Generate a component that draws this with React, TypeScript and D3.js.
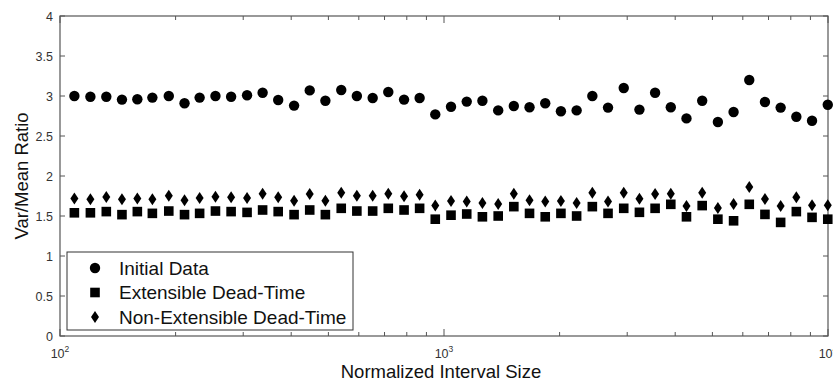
import React from "react";
import * as d3 from "d3";

const intervalSizes = [
  109, 120, 132, 145, 159, 174, 192, 211, 231, 254, 279, 307, 337, 370, 407, 447,
  491, 540, 593, 652, 716, 787, 864, 949, 1043, 1146, 1259, 1384, 1520, 1670, 1835,
  2016, 2215, 2434, 2674, 2938, 3228, 3546, 3896, 4280, 4703, 5167, 5677, 6237,
  6852, 7528, 8271, 9087, 9986,
];

const initialData = [
  3.0, 2.99, 2.99, 2.955, 2.96, 2.98, 3.0, 2.91, 2.98, 3.0, 2.99, 3.01, 3.04, 2.95,
  2.88, 3.07, 2.94, 3.075, 3.0, 2.975, 3.05, 2.955, 2.975, 2.77, 2.865, 2.93, 2.94,
  2.82, 2.875, 2.86, 2.91, 2.81, 2.82, 3.0, 2.855, 3.1, 2.83, 3.04, 2.86, 2.72, 2.94,
  2.675, 2.8, 3.2, 2.925, 2.855, 2.74, 2.69, 2.89,
];

const extensible = [
  1.54, 1.54, 1.555, 1.517, 1.555, 1.533, 1.562, 1.517, 1.533, 1.562, 1.555, 1.545,
  1.575, 1.555, 1.517, 1.575, 1.517, 1.596, 1.562, 1.562, 1.596, 1.575, 1.596, 1.46,
  1.51, 1.525, 1.49, 1.5, 1.617, 1.533, 1.49, 1.533, 1.5, 1.617, 1.533, 1.596, 1.546,
  1.596, 1.646, 1.49, 1.63, 1.46, 1.44, 1.646, 1.52, 1.42, 1.555, 1.483, 1.46,
];

const nonExtensible = [
  1.72, 1.708, 1.737, 1.708, 1.72, 1.708, 1.754, 1.696, 1.725, 1.742, 1.733, 1.725,
  1.779, 1.733, 1.692, 1.775, 1.692, 1.79, 1.754, 1.754, 1.779, 1.746, 1.767, 1.63,
  1.687, 1.68, 1.662, 1.65, 1.779, 1.696, 1.68, 1.687, 1.662, 1.79, 1.68, 1.79, 1.716,
  1.775, 1.779, 1.625, 1.79, 1.6, 1.65, 1.862, 1.712, 1.625, 1.733, 1.633, 1.633,
];

const yTicks = [0, 0.5, 1, 1.5, 2, 2.5, 3, 3.5, 4];
const legendLabels = ["Initial Data", "Extensible Dead-Time", "Non-Extensible Dead-Time"];

const W = 833;
const H = 381;
const L = 60, R = 828, T = 16, B = 336;

const font = "Liberation Sans, Arial, Helvetica, sans-serif";

function Marker({ kind, x, y }: { kind: number; x: number; y: number }) {
  if (kind === 0) return <circle cx={x} cy={y} r={5.2} fill="#000" />;
  if (kind === 1) return <rect x={x - 4.8} y={y - 4.8} width={9.6} height={9.6} fill="#000" />;
  const pts = `${x},${y - 6} ${x + 4},${y} ${x},${y + 6} ${x - 4},${y}`;
  return <polygon points={pts} fill="#000" />;
}

export default function App() {
  const x = d3.scaleLog().domain([100, 10000]).range([L, R]);
  const y = d3.scaleLinear().domain([0, 4]).range([B, T]);
  const series = [initialData, extensible, nonExtensible];

  const minor: number[] = [];
  for (const dec of [100, 1000]) for (let k = 2; k <= 9; k++) minor.push(dec * k);
  const major = [100, 1000, 10000];

  const axisColor = "#555";
  const tickColor = "#333";

  return (
    <svg width={W} height={H} style={{ position: "absolute", left: 0, top: 0, background: "#fff" }}>
      <rect x={0} y={0} width={W} height={H} fill="#fff" />
      {yTicks.map((t) => (
        <g key={"y" + t}>
          <line x1={L} x2={L + 5} y1={y(t)} y2={y(t)} stroke={axisColor} strokeWidth={1} />
          <line x1={R} x2={R - 5} y1={y(t)} y2={y(t)} stroke={axisColor} strokeWidth={1} />
          <text x={L - 7} y={y(t) + 4.5} textAnchor="end" fontSize={12.5} fill={tickColor} fontFamily={font}>
            {String(t)}
          </text>
        </g>
      ))}
      {minor.map((m) => (
        <g key={"m" + m}>
          <line x1={x(m)} x2={x(m)} y1={B} y2={B - 4} stroke={axisColor} />
          <line x1={x(m)} x2={x(m)} y1={T} y2={T + 4} stroke={axisColor} />
        </g>
      ))}
      {major.map((m, i) => (
        <g key={"M" + m}>
          <line x1={x(m)} x2={x(m)} y1={B} y2={B - 7} stroke={axisColor} />
          <line x1={x(m)} x2={x(m)} y1={T} y2={T + 7} stroke={axisColor} />
          <text x={x(m)} y={B + 22} textAnchor="middle" fontSize={12.5} fill={tickColor} fontFamily={font}>
            10
            <tspan dy={-6} fontSize={8.5}>{String(i + 2)}</tspan>
          </text>
        </g>
      ))}
      <rect x={L} y={T} width={R - L} height={B - T} fill="none" stroke={axisColor} strokeWidth={1.2} />
      {series.map((s, si) => (
        <g key={"s" + si}>
          {s.map((v, i) => (
            <Marker key={i} kind={si} x={x(intervalSizes[i])} y={y(v)} />
          ))}
        </g>
      ))}
      <rect x={67} y={252} width={286} height={78} fill="#fff" stroke="#333" strokeWidth={1} />
      {legendLabels.map((lab, i) => (
        <g key={lab}>
          <Marker kind={i} x={95} y={268 + i * 24.5} />
          <text x={119} y={268 + i * 24.5 + 6.8} fontSize={19} fill="#111" fontFamily={font}>
            {lab}
          </text>
        </g>
      ))}
      <text x={(L + R) / 2 - 3} y={378} textAnchor="middle" fontSize={18.5} fill="#111" fontFamily={font}>
        Normalized Interval Size
      </text>
      <text
        transform={`translate(28, ${(T + B) / 2}) rotate(-90)`}
        textAnchor="middle"
        fontSize={18.5}
        fill="#111"
        fontFamily={font}
      >
        Var/Mean Ratio
      </text>
    </svg>
  );
}
